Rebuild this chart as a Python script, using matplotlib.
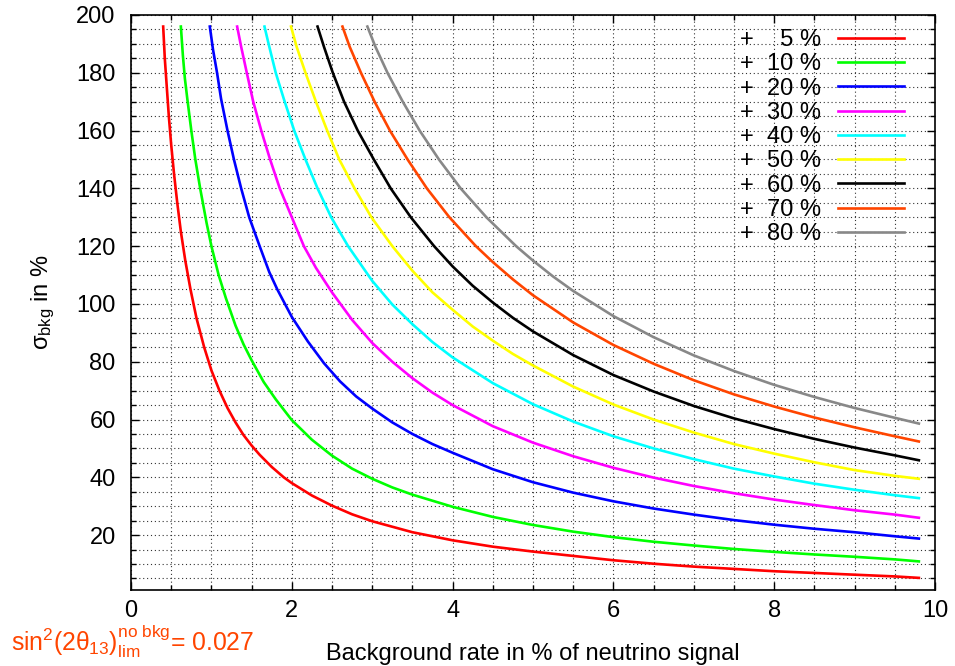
import matplotlib
matplotlib.use('Agg')
import matplotlib.pyplot as plt
from matplotlib.ticker import MultipleLocator

plt.rcParams['font.family'] = ['Liberation Sans', 'DejaVu Sans']
plt.rcParams['mathtext.fontset'] = 'custom'
plt.rcParams['mathtext.rm'] = 'Liberation Sans'
plt.rcParams['mathtext.it'] = 'Liberation Sans'
plt.rcParams['mathtext.bf'] = 'Liberation Sans:bold'

# sensitivity loss levels (legend) and curve colours
levels = [5, 10, 20, 30, 40, 50, 60, 70, 80]
colors = ['#ff0000', '#00ff00', '#0000ff', '#ff00ff', '#00ffff',
          '#ffff00', '#000000', '#ff4500', '#888888']

# curves: background rate (%) -> sigma_bkg (%)
x_5 = [0.40, 0.42, 0.445, 0.47, 0.50, 0.535, 0.575, 0.62, 0.675, 0.74, 0.815,
       0.91, 1.0, 1.1, 1.2, 1.3, 1.4, 1.5, 1.6, 1.75, 1.9, 2.0, 2.25, 2.5, 2.75,
       3.0, 3.5, 4.0, 4.5, 5.0, 5.5, 6.0, 6.5, 7.0, 7.5, 8.0, 8.5, 9.0, 9.5, 9.8]
y_5 = [196, 185, 175, 165, 155, 145, 135, 125, 115, 105, 95,
       85, 77, 70, 64, 59, 54.6, 51, 47.8, 43.6, 40, 38, 33.7, 30.2, 27.2,
       24.8, 21, 18.2, 16.0, 14.3, 12.8, 11.3, 10.1, 9.1, 8.3, 7.5, 6.9, 6.3, 5.7, 5.2]

x_10 = [0.62, 0.645, 0.67, 0.70, 0.75, 0.80, 0.86, 0.94, 1.0, 1.09, 1.18, 1.3,
        1.4, 1.5, 1.65, 1.8, 2.0, 2.25, 2.5, 2.75, 3.0, 3.25, 3.5, 4.0, 4.5,
        5.0, 5.5, 6.0, 6.5, 7.0, 7.5, 8.0, 8.5, 9.0, 9.5, 9.8]
y_10 = [196, 186, 178, 171, 160, 150, 140, 128, 120, 110, 102, 92.5,
        86, 80.5, 73, 67, 59.8, 53, 47.5, 43, 39.5, 36.5, 34, 29.8, 26.3,
        23.5, 21.2, 19.3, 17.7, 16.4, 15.2, 14.2, 13.3, 12.5, 11.6, 10.9]

x_20 = [0.98, 1.02, 1.07, 1.12, 1.2, 1.28, 1.37, 1.47, 1.6, 1.72, 1.82, 2.0,
        2.2, 2.4, 2.6, 2.8, 3.0, 3.25, 3.5, 3.75, 4.0, 4.5, 5.0, 5.5, 6.0,
        6.5, 7.0, 7.5, 8.0, 8.5, 9.0, 9.5, 9.8]
y_20 = [196, 188, 180, 171, 160, 150, 140, 130, 120, 111, 105, 95.5,
        87, 79.5, 73.2, 68, 63.8, 59, 55, 51.5, 48.5, 42.8, 38.3, 34.7, 31.7,
        29.2, 27.1, 25.2, 23.6, 22.2, 21, 19.6, 18.8]

x_30 = [1.32, 1.37, 1.44, 1.52, 1.62, 1.73, 1.85, 2.0, 2.15, 2.3, 2.5, 2.75,
        3.0, 3.25, 3.5, 3.75, 4.0, 4.5, 5.0, 5.5, 6.0, 6.5, 7.0, 7.5, 8.0,
        8.5, 9.0, 9.5, 9.8]
y_30 = [196, 189, 180, 170, 160, 150, 140, 130, 120, 112.5, 104, 94.5,
        86.5, 80, 74.3, 69.3, 65, 57.7, 52, 47.3, 43.3, 39.9, 37, 34.5, 32.3,
        30.4, 28.6, 27.1, 26.0]

x_40 = [1.66, 1.72, 1.8, 1.9, 2.03, 2.17, 2.32, 2.49, 2.7, 2.85, 3.0, 3.25,
        3.5, 3.75, 4.0, 4.5, 5.0, 5.5, 6.0, 6.5, 7.0, 7.5, 8.0, 8.5, 9.0,
        9.5, 9.8]
y_40 = [196, 189, 180, 171, 160, 150, 140, 130, 120, 114, 108, 99.8,
        93, 86.8, 81.5, 72.6, 65.3, 59.3, 54.2, 50, 46.3, 43, 40.3, 37.8, 35.7,
        33.8, 32.8]

x_50 = [1.99, 2.06, 2.17, 2.30, 2.44, 2.59, 2.78, 2.99, 3.25, 3.5, 3.75, 4.0,
        4.25, 4.5, 4.75, 5.0, 5.5, 6.0, 6.5, 7.0, 7.5, 8.0, 8.5, 9.0, 9.5, 9.8]
y_50 = [196, 189, 180, 170, 160, 150, 140, 130, 120, 111.5, 104, 98,
        92.2, 87.3, 82.7, 78.7, 71.4, 65.2, 60, 55.5, 51.5, 48.2, 45.2, 42.5, 40.5, 39.5]

x_60 = [2.32, 2.40, 2.51, 2.65, 2.82, 3.02, 3.23, 3.48, 3.77, 4.0, 4.25, 4.5,
        4.75, 5.0, 5.5, 6.0, 6.5, 7.0, 7.5, 8.0, 8.5, 9.0, 9.5, 9.8]
y_60 = [196, 189, 180, 170, 160, 150, 140, 130, 120, 113, 106.3, 100.5,
        95.2, 90.5, 82.3, 75.4, 69.7, 64.7, 60.4, 56.7, 53.3, 50.3, 47.6, 45.9]

x_70 = [2.63, 2.72, 2.86, 3.03, 3.22, 3.44, 3.68, 3.96, 4.29, 4.5, 4.75, 5.0,
        5.5, 6.0, 6.5, 7.0, 7.5, 8.0, 8.5, 9.0, 9.5, 9.8]
y_70 = [196, 189, 180, 170, 160, 150, 140, 130, 120, 114.5, 108.5, 103,
        93.6, 85.8, 79.3, 73.6, 68.7, 64.5, 60.7, 57.3, 54.2, 52.4]

x_80 = [2.94, 3.04, 3.19, 3.38, 3.59, 3.83, 4.1, 4.42, 4.79, 5.0, 5.25, 5.5,
        6.0, 6.5, 7.0, 7.5, 8.0, 8.5, 9.0, 9.5, 9.8]
y_80 = [196, 189, 180, 170, 160, 150, 140, 130, 120, 115, 109.5, 104.5,
        95.8, 88.5, 82.2, 76.8, 72, 67.8, 64, 60.6, 58.6]

curves_x = [x_5, x_10, x_20, x_30, x_40, x_50, x_60, x_70, x_80]
curves_y = [y_5, y_10, y_20, y_30, y_40, y_50, y_60, y_70, y_80]

FS = 17

fig = plt.figure(figsize=(9.55, 6.66), dpi=100)
ax = fig.add_axes([0.1372, 0.1141, 0.8418, 0.8634])

for lvl, col, xs, ys in zip(levels, colors, curves_x, curves_y):
    # pad single digits with two spaces so the numbers line up right-aligned
    pad = '  ' if lvl < 10 else ''
    ax.plot(xs, ys, color=col, lw=1.9, label=f'+  {pad}{lvl} %')

ax.set_xlim(0, 10)
ax.set_ylim(1, 200)
ax.xaxis.set_major_locator(MultipleLocator(2))
ax.xaxis.set_minor_locator(MultipleLocator(0.5))
ax.set_yticks(range(20, 201, 20))
ax.yaxis.set_minor_locator(MultipleLocator(5))

ax.grid(which='both', color='#333333', linestyle=(0, (1, 2.5)), linewidth=0.8)
ax.tick_params(which='both', direction='in', top=True, right=True, labelsize=FS)
ax.tick_params(which='major', length=6, width=1)
ax.tick_params(which='minor', length=3.5, width=1)
ax.tick_params(axis='x', pad=7)
ax.tick_params(axis='y', pad=11)
for sp in ax.spines.values():
    sp.set_linewidth(1.2)

ax.set_xlabel('Background rate in % of neutrino signal', fontsize=FS, labelpad=15)
ax.set_ylabel(r'$\sigma_{\mathrm{bkg}}$ in %', fontsize=FS, labelpad=14)

leg = ax.legend(loc='upper right', frameon=False, markerfirst=False,
                fontsize=FS, handlelength=2.8, handletextpad=0.7,
                labelspacing=0.095, borderaxespad=0.2, bbox_to_anchor=(0.979, 1.0))

fig.text(0.011, 0.022,
         r'$\mathrm{sin}^2(2\theta_{13})^{\mathrm{no\ bkg}}_{\mathrm{lim}}$= 0.027',
         color='#ff4500', fontsize=17.8)

fig.savefig('out.png', dpi=100)
